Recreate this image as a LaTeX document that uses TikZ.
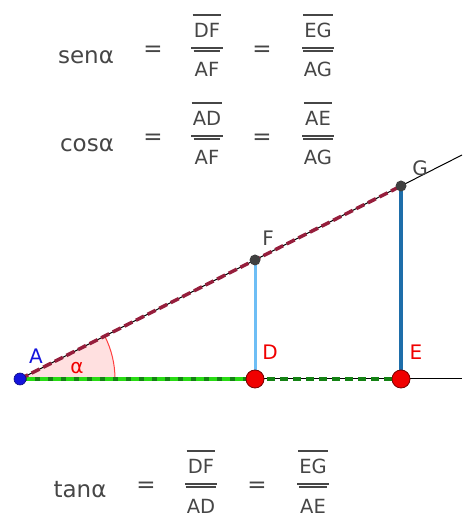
\documentclass[tikz,border=0pt]{standalone}
\usepackage{fontspec}
\setmainfont{DejaVu Sans}
\usetikzlibrary{calc}
\definecolor{txt}{RGB}{70,70,70}
\definecolor{dred}{RGB}{150,30,60}
\definecolor{lgreen}{RGB}{40,220,20}
\definecolor{dgreen}{RGB}{20,130,20}
\definecolor{lblue}{RGB}{110,190,245}
\definecolor{dblue}{RGB}{30,110,170}
\definecolor{ptred}{RGB}{240,0,0}
\definecolor{ptblue}{RGB}{20,20,220}
\begin{document}
\begin{tikzpicture}[x=1pt,y=1pt,
  bigtxt/.style={text=txt,font=\fontsize{23}{26}\selectfont,inner sep=0pt},
  fnum/.style={text=txt,font=\fontsize{19.5}{22}\selectfont,inner sep=1pt},
  barline/.style={draw=txt,line width=1.4pt},
  lbl/.style={font=\fontsize{20}{24}\selectfont,inner sep=0pt},
  pt/.style={circle,inner sep=0pt,minimum size=#1},
]
\useasboundingbox (0,0) rectangle (462,518);
% fraction macro: #1 name, #2 x, #3 y of bar, #4 numerator, #5 denominator
\newcommand{\frc}[5]{%
  \node[fnum,anchor=base] (#1n) at (#2,#3+10) {#4};
  \node[fnum,anchor=base] (#1d) at (#2,#3-29) {#5};
  \draw[barline] (#1n.west |- 0,#3+33) -- (#1n.east |- 0,#3+33);
  \draw[barline] (#2-16,#3) -- (#2+16,#3);
  \draw[barline] (#1d.west |- 0,#3-3) -- (#1d.east |- 0,#3-3);
}
% sen row (bar at 470)
\node[bigtxt,anchor=base] (s0) at (86,454) {senα};
\node[bigtxt] (s1) at (153,467) {=};
\frc{s2}{207}{470}{DF}{AF}
\node[bigtxt] (s3) at (262,467) {=};
\frc{s4}{318}{470}{EG}{AG}
% cos row (bar at 382)
\node[bigtxt,anchor=base] (c0) at (87,366) {cosα};
\node[bigtxt] (c1) at (153,379) {=};
\frc{c2}{207}{382}{AD}{AF}
\node[bigtxt] (c3) at (262,379) {=};
\frc{c4}{318}{382}{AE}{AG}
% tan row (bar at 34)
\node[bigtxt,anchor=base] (t0) at (80,20) {tanα};
\node[bigtxt] (t1) at (146,31) {=};
\frc{t2}{201}{34}{DF}{AD}
\node[bigtxt] (t3) at (257,31) {=};
\frc{t4}{313}{34}{EG}{AE}
% geometry
\coordinate (A) at (20,139);
\coordinate (D) at (255,139);
\coordinate (E) at (401,139);
\coordinate (F) at (255,258);
\coordinate (G) at (401,332);
\coordinate (Lend) at (462,363);
\coordinate (Hend) at (462,139);
% angle
\fill[red!12] (A) -- ++(95,0) arc[start angle=0,end angle=26.87,radius=95] -- cycle;
\draw[red!75,line width=1pt] ($(A)+(95,0)$) arc[start angle=0,end angle=26.87,radius=95];
% lines
\draw[black,line width=1pt] (A) -- (Hend);
\draw[black,line width=1pt] (A) -- (Lend);
\draw[dgreen,line width=3.5pt,dash pattern=on 8pt off 5pt] (A) -- (E);
\draw[lgreen,line width=3.5pt,dash pattern=on 8pt off 5pt,dash phase=6pt] (A) -- (D);
\draw[dred,line width=3.5pt,dash pattern=on 9pt off 4pt] (A) -- (G);
\draw[lblue,line width=3pt] (D) -- (F);
\draw[dblue,line width=3.6pt] (E) -- (G);
% points
\node[pt=12pt,fill=ptblue,draw=ptblue!60!black,line width=0.6pt] (pA) at (A) {};
\node[pt=18pt,fill=ptred,draw=ptred!50!black,line width=0.8pt] (pD) at (D) {};
\node[pt=18pt,fill=ptred,draw=ptred!50!black,line width=0.8pt] (pE) at (E) {};
\node[pt=11pt,fill=black!75] (pF) at (F) {};
\node[pt=11pt,fill=black!75] (pG) at (G) {};
% labels
\node[lbl,text=ptblue] (lA) at (36,162) {A};
\node[lbl,text=ptred] (lal) at (77,150) {α};
\node[lbl,text=txt] (lF) at (268,280) {F};
\node[lbl,text=txt] (lG) at (420,350) {G};
\node[lbl,text=ptred] (lD) at (270,166) {D};
\node[lbl,text=ptred] (lE) at (416,166) {E};
\end{tikzpicture}
\end{document}
